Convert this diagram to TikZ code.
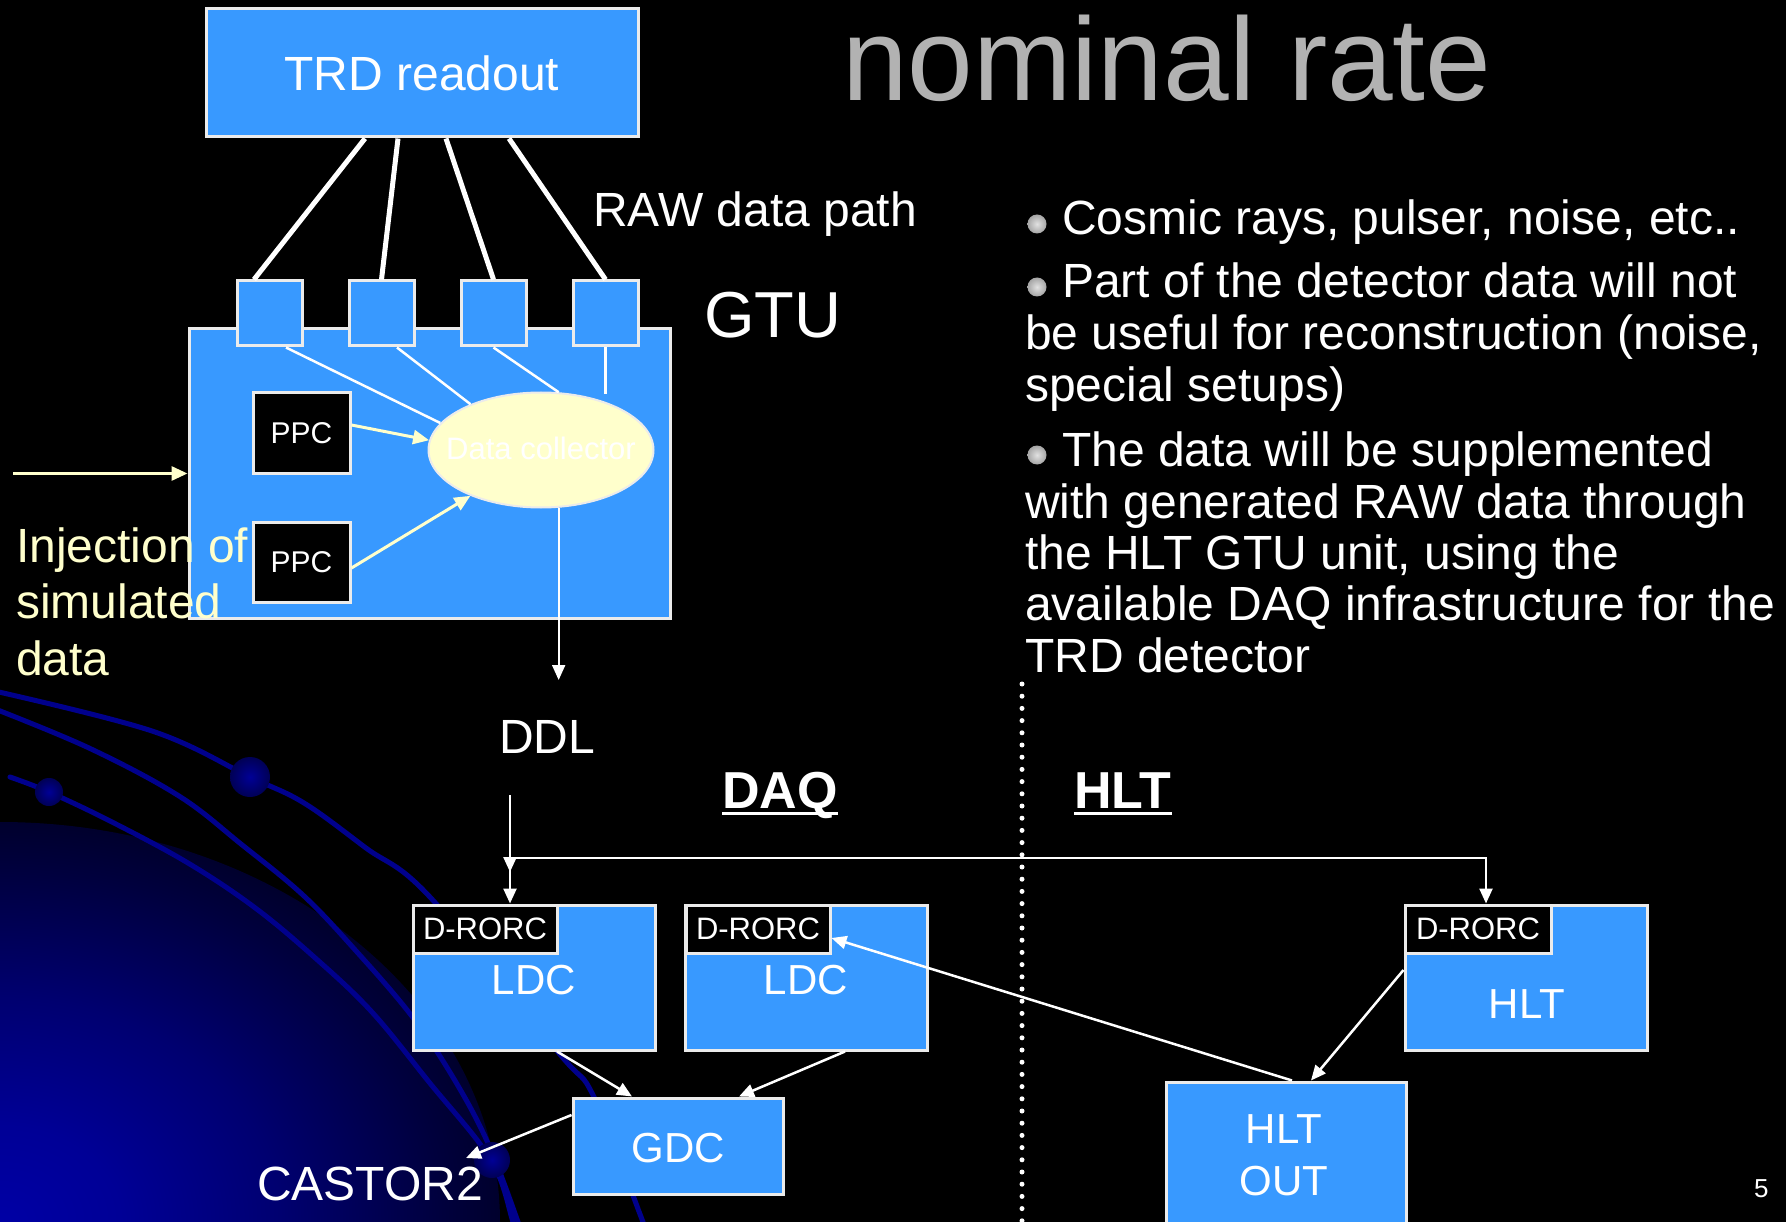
\documentclass[tikz,border=0pt]{standalone}
\usepackage{fontspec}
\setmainfont{Liberation Sans}
\usetikzlibrary{arrows.meta,shapes.geometric,calc}
\definecolor{boxblue}{RGB}{56,153,255}
\definecolor{edgecol}{RGB}{235,235,235}
\definecolor{paleyellow}{RGB}{255,255,204}
\definecolor{titlegray}{RGB}{178,178,178}
\definecolor{navyline}{RGB}{0,0,140}
\definecolor{glowhi}{RGB}{0,0,165}
\definecolor{glowa}{RGB}{0,0,150}
\definecolor{glowb}{RGB}{0,0,112}
\definecolor{glowc}{RGB}{0,0,62}
\definecolor{glowd}{RGB}{0,0,22}
\definecolor{dotin}{RGB}{0,0,150}
\definecolor{dotout}{RGB}{0,0,85}
\definecolor{bulletin}{RGB}{225,225,225}
\definecolor{bulletout}{RGB}{165,165,165}
\pgfdeclareradialshading{cornerglow}{\pgfpoint{0bp}{0bp}}{color(0bp)=(glowhi); color(6bp)=(glowa); color(14bp)=(glowb); color(22bp)=(glowc); color(29bp)=(glowd); color(35bp)=(black); color(50bp)=(black)}
\newcommand{\setfs}[1]{\fontsize{#1}{#1}\selectfont}
\begin{document}
\begin{tikzpicture}[x=1pt,y=-1pt,
  bluebox/.style={draw=edgecol, line width=3pt, fill=boxblue, inner sep=0pt},
  blackbox/.style={draw=edgecol, line width=3pt, fill=black, inner sep=0pt, text=white},
  txt/.style={inner sep=0pt, text=white},
  wire/.style={draw=white, line width=2.5pt},
  trdwire/.style={draw=white, line width=5pt},
  arr/.style={draw=white, line width=2.5pt, -{Triangle[length=15pt,width=13pt]}},
  yarr/.style={draw=paleyellow, line width=3pt, -{Triangle[length=16pt,width=14pt]}},
  curve/.style={draw=navyline, line width=5pt, line cap=round},
  navydot/.style={inner color=dotin, outer color=dotout},
  bulletdot/.style={inner color=bulletin, outer color=bulletout}
]
\useasboundingbox (0,0) rectangle (1786,1222);
\clip (0,0) rectangle (1786,1222);
\fill[black] (0,0) rectangle (1786,1222);
% background glow and curves
\shade[shading=cornerglow] (0,1222) ellipse [x radius=500pt, y radius=400pt];
\draw[curve] plot[smooth, tension=0.6] coordinates {(-10,690) (152,731) (250,777) (304,803) (366,848) (429,896) (558,1052) (594,1097) (643,1222) (650,1240)};
\draw[curve] plot[smooth, tension=0.6] coordinates {(-10,707) (89,748) (179,796) (241,844) (304,896) (357,952) (411,1015) (451,1074) (487,1141) (518,1222) (522,1240)};
\draw[curve] plot[smooth, tension=0.6] coordinates {(10,777) (49,792) (112,822) (188,863) (254,907) (313,956) (371,1011) (429,1082) (491,1160) (513,1222) (518,1240)};
\shade[navydot] (250,777) circle (20pt);
\shade[navydot] (49,792) circle (14pt);
\shade[navydot] (492,1160) circle (18pt);

% title
\node[txt, anchor=base west, text=titlegray, font={\setfs{118}}] (title) at (842,101) {nominal rate};

% GTU and TRD
\node[bluebox, minimum width=432pt, minimum height=128pt] (trd) at (422,73) {};
\node[txt, anchor=base, font={\setfs{48}}] (trdtxt) at (422,91) {TRD readout};
\node[bluebox, minimum width=481pt, minimum height=289pt] (gtu) at (429.5,473.5) {};
\node[bluebox, minimum width=65pt, minimum height=65pt] (p1) at (269.5,313.5) {};
\node[bluebox, minimum width=65pt, minimum height=65pt] (p2) at (381.5,313.5) {};
\node[bluebox, minimum width=65pt, minimum height=65pt] (p3) at (493.5,313.5) {};
\node[bluebox, minimum width=65pt, minimum height=65pt] (p4) at (605.5,313.5) {};
\draw[trdwire] ([xshift=-57pt]trd.south) -- ([xshift=-15.5pt]p1.north);
\draw[trdwire] ([xshift=-24pt]trd.south) -- (p2.north);
\draw[trdwire] ([xshift=24pt]trd.south) -- (p3.north);
\draw[trdwire] ([xshift=87pt]trd.south) -- (p4.north);

\node[ellipse, draw=edgecol, line width=2pt, fill=paleyellow, minimum width=225pt, minimum height=115pt, inner sep=0pt] (dc) at (541,450) {};
\node[txt, anchor=base, font={\setfs{31}}] (dctxt) at (541,460) {Data collector};
\node[blackbox, minimum width=97pt, minimum height=80pt, font={\setfs{30}}] (ppc1) at (301.5,433) {PPC};
\node[blackbox, minimum width=97pt, minimum height=80pt, font={\setfs{30}}] (ppc2) at (301.5,562) {PPC};

\draw[wire] ([xshift=16.5pt]p1.south) -- (dc.165);
\draw[wire] ([xshift=15.5pt]p2.south) -- (dc.147);
\draw[wire] (p3.south) -- (dc.73);
\draw[wire] (p4.south) -- ++(0,47);
\draw[yarr] ([yshift=8pt]ppc1.east) -- (dc.175);
\draw[yarr] ([yshift=-6pt]ppc2.east) -- (dc.213);

\coordinate (ddlend) at (558,680);
\draw[arr, line width=2pt] (dc.-73) -- (dc.-73 |- ddlend);

\coordinate (injstart) at (13,473.5);
\draw[yarr] (injstart) -- (gtu.west);
\node[txt, anchor=base west, text=paleyellow, font={\setfs{48}}] (inj1) at (16,562) {Injection of};
\node[txt, anchor=base west, text=paleyellow, font={\setfs{48}}] (inj2) at (16,618) {simulated};
\node[txt, anchor=base west, text=paleyellow, font={\setfs{48}}] (inj3) at (16,675) {data};

\node[txt, anchor=base west, font={\setfs{48}}] (raw) at (593,227) {RAW data path};
\node[txt, anchor=base west, font={\setfs{65}}] (gtulab) at (704,338) {GTU};

% bullets
\foreach \by in {224,287,455}{\shade[bulletdot] (1037,\by) circle (9.5pt);}
\node[txt, anchor=base west, font={\setfs{48}}] (b1) at (1062,235) {Cosmic rays, pulser, noise, etc..};
\node[txt, anchor=base west, font={\setfs{48}}] (b2) at (1062,298) {Part of the detector data will not};
\node[txt, anchor=base west, font={\setfs{48}}] (b3) at (1025,350) {be useful for reconstruction (noise,};
\node[txt, anchor=base west, font={\setfs{48}}] (b4) at (1025,402) {special setups)};
\node[txt, anchor=base west, font={\setfs{48}}] (b5) at (1062,466) {The data will be supplemented};
\node[txt, anchor=base west, font={\setfs{48}}] (b6) at (1025,518) {with generated RAW data through};
\node[txt, anchor=base west, font={\setfs{48}}] (b7) at (1025,569) {the HLT GTU unit, using the};
\node[txt, anchor=base west, font={\setfs{48}}] (b8) at (1025,620) {available DAQ infrastructure for the};
\node[txt, anchor=base west, font={\setfs{48}}] (b9) at (1025,672) {TRD detector};

% lower part
\node[txt, anchor=base west, font={\setfs{48}}] (ddl) at (499,753) {DDL};
\node[txt, anchor=base west, font={\bfseries\setfs{52}}] (daq) at (722,808) {DAQ};
\draw[white, line width=3pt] ([yshift=-5pt]daq.base west) -- ([yshift=-5pt]daq.base east);
\node[txt, anchor=base west, font={\bfseries\setfs{52}}] (hltlab) at (1074,808) {HLT};
\draw[white, line width=3pt] ([yshift=-5pt]hltlab.base west) -- ([yshift=-5pt]hltlab.base east);
\draw[white, line width=5pt, line cap=round, dash pattern=on 0pt off 12.2pt] (1022,684) -- (1022,1230);

\node[bluebox, minimum width=242pt, minimum height=145pt] (ldc1) at (534,977.5) {};
\node[blackbox, minimum width=144pt, minimum height=48pt, font={\setfs{31}}] (dr1) at (485,929) {D-RORC};
\node[txt, anchor=base, font={\setfs{42}}] (ldc1t) at (534,994) {LDC};
\node[bluebox, minimum width=242pt, minimum height=145pt] (ldc2) at (806.5,977.5) {};
\node[blackbox, minimum width=144pt, minimum height=48pt, font={\setfs{31}}] (dr2) at (758,929) {D-RORC};
\node[txt, anchor=base, font={\setfs{42}}] (ldc2t) at (806,994) {LDC};
\node[bluebox, minimum width=210pt, minimum height=96pt] (gdc) at (678,1146) {};
\node[txt, anchor=base, font={\setfs{42}}] (gdct) at (678,1162) {GDC};
\node[bluebox, minimum width=242pt, minimum height=145pt] (hlt) at (1526,977.5) {};
\node[blackbox, minimum width=146pt, minimum height=48pt, font={\setfs{31}}] (dr3) at (1478,929) {D-RORC};
\node[txt, anchor=base, font={\setfs{42}}] (hltt) at (1527,1018) {HLT};
\node[bluebox, minimum width=240pt, minimum height=160pt] (hltout) at (1286,1162) {};
\node[txt, anchor=base, font={\setfs{42}}] (hltout1) at (1284,1143) {HLT};
\node[txt, anchor=base, font={\setfs{42}}] (hltout2) at (1284,1195) {OUT};
\node[txt, anchor=base west, font={\setfs{48}}] (castor) at (257,1200) {CASTOR2};
\node[txt, anchor=base west, font={\setfs{26}}] (pg) at (1754,1197) {5};

\coordinate (ddltop) at (510,795);
\coordinate (busend) at (510,872);
\coordinate (junc) at (510,858);
\draw[arr] (ddltop) -- (busend);
\draw[arr] (junc) -- (junc |- ldc1.north);
\draw[arr] (junc) -| ([xshift=-40pt]hlt.north);
\draw[arr] ([xshift=23pt]ldc1.south) -- ([xshift=-46pt]gdc.north);
\draw[arr] ([xshift=38.5pt]ldc2.south) -- ([xshift=61pt]gdc.north);
\coordinate (castorin) at (466,1158);
\draw[arr] ([yshift=31pt]gdc.west) -- (castorin);
\draw[arr] ([yshift=7.5pt]hlt.west) -- ([xshift=25pt]hltout.north);
\draw[arr] ([xshift=6pt]hltout.north) -- ([yshift=-9pt]dr2.east);
\end{tikzpicture}
\end{document}
